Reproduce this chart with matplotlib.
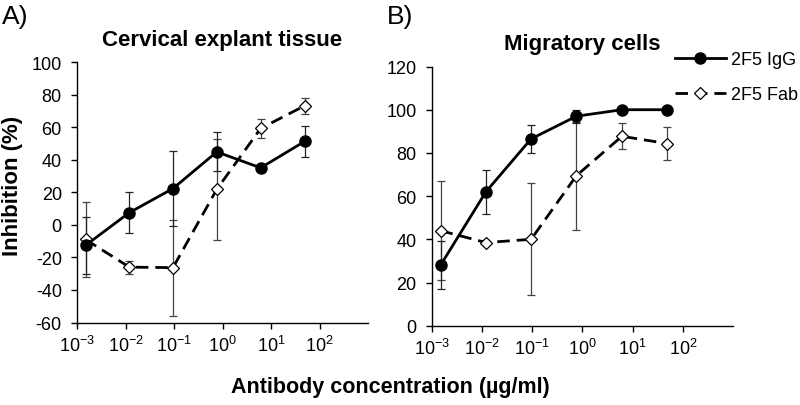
import matplotlib
matplotlib.use("Agg")
import matplotlib.pyplot as plt
from matplotlib.ticker import FixedLocator, NullLocator

plt.rcParams['font.family'] = ['Liberation Sans', 'DejaVu Sans']
plt.rcParams['mathtext.fontset'] = 'custom'
plt.rcParams['mathtext.rm'] = 'Liberation Sans'
plt.rcParams['mathtext.it'] = 'Liberation Sans'
plt.rcParams['mathtext.default'] = 'regular'
plt.rcParams['axes.unicode_minus'] = False

# -------- Data --------
conc = [0.0015, 0.012, 0.095, 0.76, 6.1, 49]
x_ticks = [1e-3, 1e-2, 1e-1, 1e0, 1e1, 1e2]
x_tick_labels = ["$10^{-3}$", "$10^{-2}$", "$10^{-1}$", "$10^{0}$", "$10^{1}$", "$10^{2}$"]

# A) Cervical explant tissue
a_igg = [-12.6, 7.5, 22.3, 44.8, 35, 51.2]
a_igg_err = [17.7, 12.6, 23, 12, 2.5, 9.7]
a_fab = [-9, -26, -26.3, 21.8, 59.2, 73.1]
a_fab_err = [23, 4, 29.5, 31, 5.7, 5]

# B) Migratory cells
b_igg = [28, 62, 86.5, 97, 100, 100]
b_igg_err = [11, 10.2, 6.5, 3, 0, 0]
b_fab = [44, 38.5, 40, 69.5, 87.7, 84.3]
b_fab_err = [23, 1, 26, 25, 6, 7.5]

fig = plt.figure(figsize=(8, 4.06), dpi=100)
ax_a = fig.add_axes([0.0963, 0.2032, 0.3638, 0.6416])
ax_b = fig.add_axes([0.5396, 0.1953, 0.3770, 0.6384])


def draw_panel(ax, igg, igg_err, fab, fab_err, ylim, yticks, title):
    ax.errorbar(conc, fab, yerr=fab_err, fmt="none", ecolor="#444444",
                elinewidth=0.9, capsize=3.2, capthick=0.9, zorder=2)
    ax.errorbar(conc, igg, yerr=igg_err, fmt="none", ecolor="#222222",
                elinewidth=0.9, capsize=3.2, capthick=0.9, zorder=2)
    ax.plot(conc, fab, color="black", lw=2, dashes=(4.5, 2.5),
            marker="D", markersize=6.5, markerfacecolor="white",
            markeredgecolor="black", markeredgewidth=0.9, label="2F5 Fab", zorder=3)
    ax.plot(conc, igg, color="black", lw=2, marker="o", markersize=8,
            markerfacecolor="black", label="2F5 IgG", zorder=4)
    ax.set_xscale("log")
    ax.set_xlim(1e-3, 1e3)
    ax.xaxis.set_major_locator(FixedLocator(x_ticks))
    ax.xaxis.set_minor_locator(NullLocator())
    ax.set_xticks(x_ticks)
    ax.set_xticklabels(x_tick_labels)
    ax.set_ylim(*ylim)
    ax.set_yticks(yticks)
    for s in ["top", "right"]:
        ax.spines[s].set_visible(False)
    for s in ["left", "bottom"]:
        ax.spines[s].set_linewidth(1.0)
    ax.tick_params(direction="out", length=4, width=1.0, labelsize=13, pad=7)
    ax.tick_params(axis="x", pad=5)
    ax.set_title(title, fontsize=16, fontweight="bold", pad=12.5)


draw_panel(ax_a, a_igg, a_igg_err, a_fab, a_fab_err, (-60, 100),
           range(-60, 101, 20), "Cervical explant tissue")
draw_panel(ax_b, b_igg, b_igg_err, b_fab, b_fab_err, (0, 120),
           range(0, 121, 20), "Migratory cells")

handles, labels = ax_b.get_legend_handles_labels()
fig.legend(handles[::-1], labels[::-1], loc="upper left",
           bbox_to_anchor=(675 / 800, 1 - 52 / 406), frameon=False,
           fontsize=13, handlelength=2.8, handletextpad=0.3,
           labelspacing=1.0, borderpad=0, borderaxespad=0)

fig.text(2 / 800, 1 - 17 / 406, "A)", fontsize=19, va="center", ha="left")
fig.text(387 / 800, 1 - 17 / 406, "B)", fontsize=19, va="center", ha="left")
fig.text(13 / 800, 1 - 186 / 406, "Inhibition (%)", rotation=90, fontsize=16,
         fontweight="bold", va="center", ha="center")
fig.text(390 / 800, 1 - 388 / 406, "Antibody concentration (µg/ml)", fontsize=15.5,
         fontweight="bold", va="center", ha="center")

fig.savefig("out.png", dpi=100)
